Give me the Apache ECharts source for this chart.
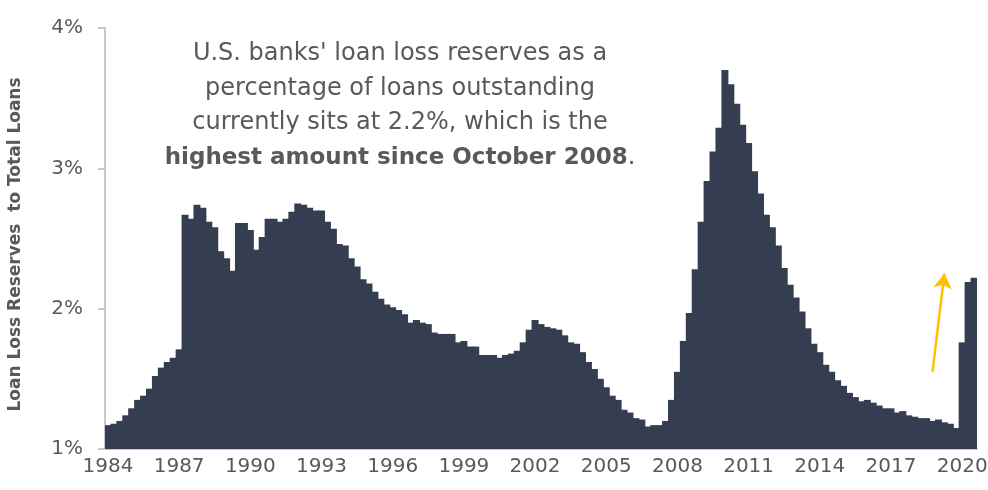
<!DOCTYPE html>
<html>
<head>
<meta charset="utf-8">
<script src="https://cdn.jsdelivr.net/npm/echarts@6/dist/echarts.min.js"></script>
<style>
html,body{margin:0;padding:0;background:#fff;}
#chart{width:988px;height:490px;}
</style>
</head>
<body>
<div id="chart"></div>
<script>
// Quarterly, 1984 Q1 .. 2020 Q3 (147 quarters)
var firstYear = 1984;
var quarterCount = 147;
var tickYears = ['1984','1987','1990','1993','1996','1999','2002','2005','2008','2011','2014','2017','2020'];
var yTicks = [1, 2, 3, 4];

// Loan loss reserves to total loans, %
var reserves = [
  1.17,1.18,1.20,1.24, 1.29,1.35,1.38,1.43, 1.52,1.58,1.62,1.65,   // 1984-1986
  1.71,2.67,2.64,2.74, 2.72,2.62,2.58,2.41, 2.36,2.27,2.61,2.61,   // 1987-1989
  2.56,2.42,2.51,2.64, 2.64,2.62,2.64,2.69, 2.75,2.74,2.72,2.70,   // 1990-1992
  2.70,2.62,2.57,2.46, 2.45,2.36,2.30,2.21, 2.18,2.12,2.07,2.03,   // 1993-1995
  2.01,1.99,1.96,1.90, 1.92,1.90,1.89,1.83, 1.82,1.82,1.82,1.76,   // 1996-1998
  1.77,1.73,1.73,1.67, 1.67,1.67,1.65,1.67, 1.68,1.70,1.76,1.85,   // 1999-2001
  1.92,1.89,1.87,1.86, 1.85,1.81,1.76,1.75, 1.69,1.62,1.57,1.50,   // 2002-2004
  1.44,1.38,1.35,1.28, 1.26,1.22,1.21,1.16, 1.17,1.17,1.20,1.35,   // 2005-2007
  1.55,1.77,1.97,2.28, 2.62,2.91,3.12,3.29, 3.70,3.60,3.46,3.31,   // 2008-2010
  3.18,2.98,2.82,2.67, 2.58,2.45,2.29,2.17, 2.08,1.98,1.86,1.75,   // 2011-2013
  1.69,1.60,1.55,1.49, 1.45,1.40,1.37,1.34, 1.35,1.33,1.31,1.29,   // 2014-2016
  1.29,1.26,1.27,1.24, 1.23,1.22,1.22,1.20, 1.21,1.19,1.18,1.15,   // 2017-2019
  1.76,2.19,2.22                                                   // 2020
];

var arrowStart = ['2018 Q4', 1.55];
var arrowEnd = ['2019 Q2', 2.25];

var categories = [];
for (var i = 0; i < quarterCount; i++) {
  categories.push((firstYear + Math.floor(i / 4)) + ' Q' + (i % 4 + 1));
}

var grey = '#595959';
var barColor = '#343e50';
var fontFam = '"DejaVu Sans", sans-serif';

var chart = echarts.init(document.getElementById('chart'), null, {renderer: 'canvas'});
chart.setOption({
  animation: false,
  backgroundColor: '#ffffff',
  grid: {left: 105, right: 11, top: 28, bottom: 41, containLabel: false, outerBoundsMode: 'none'},
  xAxis: {
    type: 'category',
    data: categories,
    boundaryGap: true,
    axisLine: {show: true, lineStyle: {color: '#c8c8c8', width: 2}},
    axisTick: {show: false},
    axisLabel: {
      interval: function (idx) { return idx % 12 === 0; },
      formatter: function (v) { var y = v.slice(0, 4); return tickYears.indexOf(y) >= 0 ? y : ''; },
      color: grey, fontFamily: fontFam, fontSize: 20, margin: 8
    }
  },
  yAxis: {
    type: 'value',
    min: yTicks[0], max: yTicks[yTicks.length - 1], interval: 1,
    name: 'Loan Loss Reserves  to Total Loans',
    nameLocation: 'middle', nameRotate: 90, nameGap: 81,
    nameTextStyle: {color: grey, fontFamily: fontFam, fontSize: 17, fontWeight: 'bold', padding: [0, 12, 0, 0]},
    axisLine: {show: true, lineStyle: {color: '#c8c8c8', width: 2}},
    axisTick: {show: true, length: 7, lineStyle: {color: '#c8c8c8', width: 2}},
    splitLine: {show: false},
    axisLabel: {formatter: '{value}%', color: grey, fontFamily: fontFam, fontSize: 20, margin: 22}
  },
  graphic: [{
    type: 'text',
    x: 400, y: 37,
    style: {
      text: "{n|U.S. banks' loan loss reserves as a}\n{n|percentage of loans outstanding}\n{n|currently sits at 2.2%, which is the}\n{b|highest amount since October 2008}{n|.}",
      align: 'center',
      verticalAlign: 'top',
      rich: {
        n: {fontFamily: fontFam, fontSize: 24, fill: grey, lineHeight: 34.5},
        b: {fontFamily: fontFam, fontSize: 23, fontWeight: 'bold', fill: grey, lineHeight: 34.5}
      }
    }
  }],
  series: [{
    type: 'bar',
    data: reserves,
    barWidth: '118%',
    itemStyle: {color: barColor},
    markLine: {
      silent: true,
      symbol: ['none', 'arrow'],
      symbolSize: [14, 15],
      label: {show: false},
      lineStyle: {color: '#ffc000', width: 2.5, type: 'solid'},
      data: [[{coord: arrowStart}, {coord: arrowEnd}]]
    }
  }]
});
</script>
</body>
</html>
